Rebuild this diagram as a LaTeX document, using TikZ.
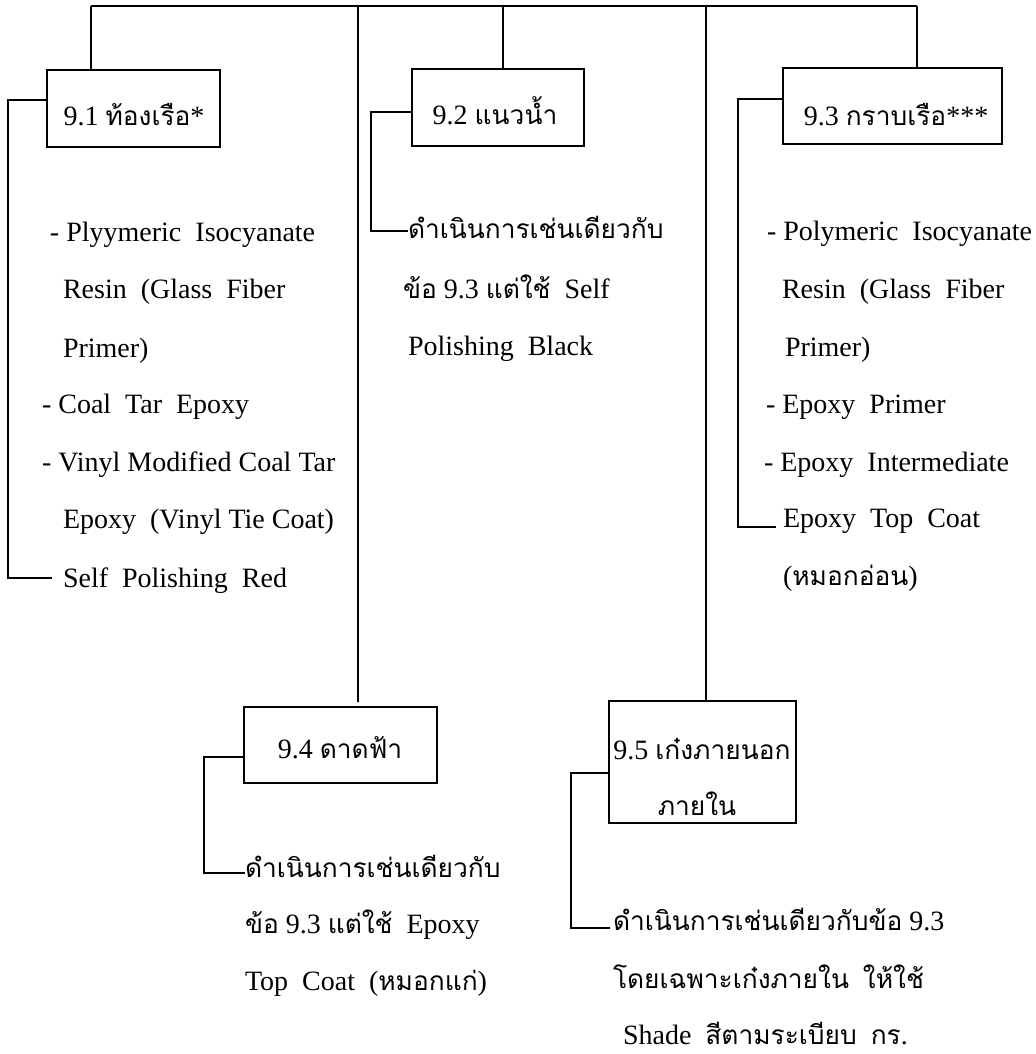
\documentclass[tikz,border=0pt]{standalone}
\usepackage{fontspec}
\setmainfont{Liberation Serif}
\newfontfamily\thaifont[Script=Thai,Scale=0.94]{Loma}
\newcommand\tht[1]{{\thaifont #1}}
\newcommand\ws{\hspace{0.5em}}
\begin{document}
\begin{tikzpicture}[x=0.75pt,y=-0.75pt,
  every node/.style={inner sep=0pt,outer sep=0pt,font=\fontsize{21pt}{25pt}\selectfont},
  box/.style={draw,line width=1.5pt,rectangle},
  line/.style={line width=1.5pt},
  txt/.style={anchor=base west},
  lbl/.style={anchor=base}]
\useasboundingbox (0,0) rectangle (1036,1054);

% category boxes
\node[box,minimum width=129.75pt,minimum height=57.75pt] (b1) at (133.5,108.5) {};
\node[box,minimum width=129pt,minimum height=57.75pt] (b2) at (498,107.5) {};
\node[box,minimum width=164.25pt,minimum height=57pt] (b3) at (892.5,106) {};
\node[box,minimum width=144.75pt,minimum height=57pt] (b4) at (340.5,745) {};
\node[box,minimum width=140.25pt,minimum height=91.5pt] (b5) at (702.5,762) {};

% box captions
\node[lbl] (l1) at (134,125) {9.1 \tht{ท้องเรือ}*};
\node[lbl] (l2) at (495,124) {9.2 \tht{แนวน้ำ}};
\node[lbl] (l3) at (896,125) {9.3 \tht{กราบเรือ}***};
\node[lbl] (l4) at (340,758) {9.4 \tht{ดาดฟ้า}};
\node[lbl] (l5a) at (702,759) {9.5 \tht{เก๋งภายนอก}};
\node[lbl] (l5b) at (697,815) {\tht{ภายใน}};

% top bus and drops
\coordinate (j1) at (91,6);
\coordinate (j4) at (358,6);
\coordinate (j2) at (503,6);
\coordinate (j5) at (706,6);
\coordinate (j3) at (917,6);
\draw[line] (j1) -- (j3);
\draw[line] (j1) -- (j1 |- b1.north);
\draw[line] (j2) -- (j2 |- b2.north);
\draw[line] (j3) -- (j3 |- b3.north);
\draw[line,shorten >=3.75pt] (j4) -- (j4 |- b4.north);
\draw[line] (j5) -- (j5 |- b5.north);

% 9.1 items
\node[txt] (a1) at (50,241) {- Plyymeric\ws Isocyanate};
\node[txt] (a2) at (63,298) {Resin\ws (Glass\ws Fiber};
\node[txt] (a3) at (63,357) {Primer)};
\node[txt] (a4) at (42,413) {- Coal\ws Tar\ws Epoxy};
\node[txt] (a5) at (42,471) {- Vinyl Modified Coal Tar};
\node[txt] (a6) at (63,528) {Epoxy\ws (Vinyl Tie Coat)};
\node[txt] (a7) at (63,587) {Self\ws Polishing\ws Red};

% 9.2 items
\node[txt] (c1) at (408,238) {\tht{ดำเนินการเช่นเดียวกับ}};
\node[txt] (c2) at (403,298) {\tht{ข้อ} 9.3 \tht{แต่ใช้}\ws Self};
\node[txt] (c3) at (408,355) {Polishing\ws Black};

% 9.3 items
\node[txt] (d1) at (767,240) {- Polymeric\ws Isocyanate};
\node[txt] (d2) at (782,298) {Resin\ws (Glass\ws Fiber};
\node[txt] (d3) at (785,356) {Primer)};
\node[txt] (d4) at (766,413) {- Epoxy\ws Primer};
\node[txt] (d5) at (764,471) {- Epoxy\ws Intermediate};
\node[txt] (d6) at (783,527) {Epoxy\ws Top\ws Coat};
\node[txt] (d7) at (783,585) {(\tht{หมอกอ่อน})};

% 9.4 items
\node[txt] (f1) at (245,877) {\tht{ดำเนินการเช่นเดียวกับ}};
\node[txt] (f2) at (245,933) {\tht{ข้อ} 9.3 \tht{แต่ใช้}\ws Epoxy};
\node[txt] (f3) at (245,990) {Top\ws Coat\ws (\tht{หมอกแก่})};

% 9.5 items
\node[txt] (g1) at (613,930) {\tht{ดำเนินการเช่นเดียวกับข้อ} 9.3};
\node[txt] (g2) at (613,988) {\tht{โดยเฉพาะเก๋งภายใน}\ws \tht{ให้ใช้}};
\node[txt] (g3) at (623,1044) {Shade\ws \tht{สีตามระเบียบ}\ws \tht{กร}.};

% side brackets
\coordinate (e1) at (52,578);
\coordinate (e2) at (408,231);
\coordinate (e3) at (776,527);
\coordinate (e4) at (245,873);
\coordinate (e5) at (610,928);
\draw[line] (b1.west |- 0,100) -- (8,100) |- (e1);
\draw[line] (b2.west |- 0,112) -- (371,112) |- (e2);
\draw[line] (b3.west |- 0,99) -- (738,99) |- (e3);
\draw[line] (b4.west |- 0,757) -- (204,757) |- (e4);
\draw[line] (b5.west |- 0,773) -- (571,773) |- (e5);
\end{tikzpicture}
\end{document}
